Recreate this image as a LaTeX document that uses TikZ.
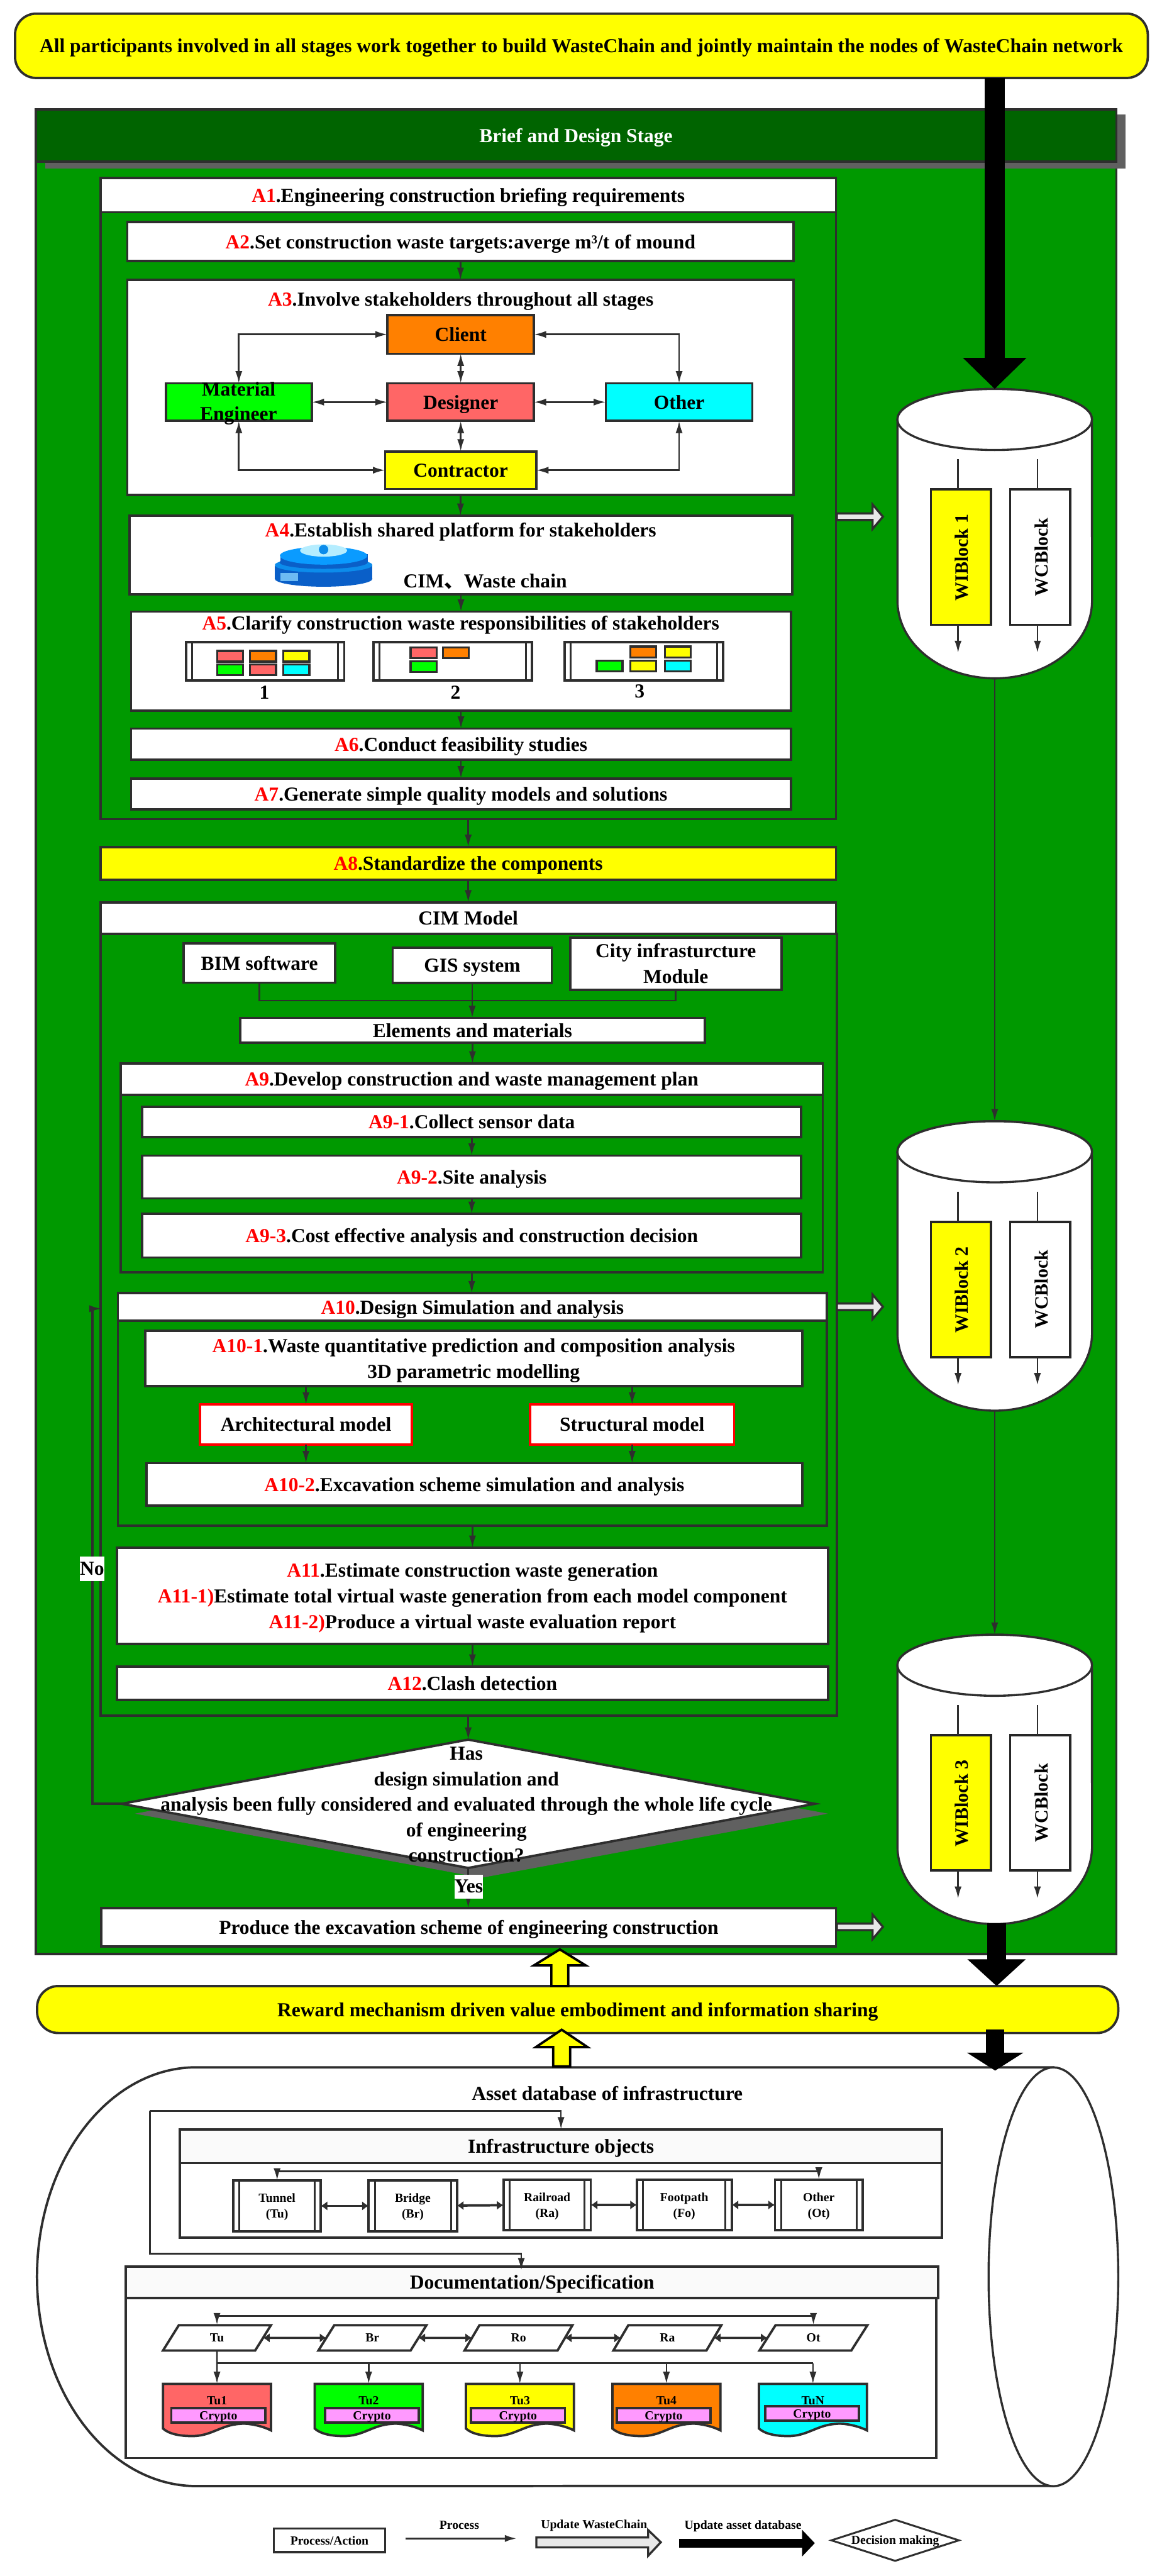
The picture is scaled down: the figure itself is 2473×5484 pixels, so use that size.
\documentclass[tikz,border=0pt]{standalone}
\usepackage{fontspec}
\setmainfont{Liberation Serif}
\newfontfamily\cjk{Noto Sans CJK SC}
\usetikzlibrary{arrows.meta,shapes.geometric}
\definecolor{linecol}{HTML}{2E2E2E}
\definecolor{stagegreen}{HTML}{009900}
\definecolor{headgreen}{HTML}{006400}
\definecolor{shadowgrey}{HTML}{606060}
\definecolor{wred}{HTML}{FF6666}
\definecolor{worange}{HTML}{FF8000}
\definecolor{wgreen}{HTML}{00FF00}
\definecolor{wcyan}{HTML}{00FFFF}
\definecolor{wyellow}{HTML}{FFFF00}
\definecolor{wpink}{HTML}{FF99FF}
\definecolor{iconlow}{HTML}{0A5FC8}
\definecolor{iconring}{HTML}{0C8CEB}
\definecolor{icontop}{HTML}{0A9BFF}
\definecolor{iconcloud}{HTML}{B5EDFF}
\tikzset{
	procbox/.style={draw=linecol, line width=0.05cm, fill=white, inner sep=0pt, outer sep=0pt, align=center, text depth=0pt, font=\fontsize{12}{15.6}\selectfont\bfseries},
	framebox/.style={procbox, fill=none},
	plaintext/.style={inner sep=0pt, outer sep=0pt, align=center, font=\fontsize{12}{15.6}\selectfont\bfseries},
	smalltext/.style={plaintext, font=\fontsize{7.5}{9.6}\selectfont\bfseries},
	itembox/.style={procbox, font=\fontsize{7.5}{9.6}\selectfont\bfseries, path picture={
		\draw[linecol, line width=0.04cm] (path picture bounding box.north west) ++(13,0) -- ++(0,200);
		\draw[linecol, line width=0.04cm] (path picture bounding box.north east) ++(-13,0) -- ++(0,200);}},
	chip/.style={draw=linecol, line width=0.045cm, minimum width=0.55cm, minimum height=0.23cm, inner sep=0pt},
	flowline/.style={draw=linecol, line width=0.035cm},
	flow/.style={flowline, -{Latex[length=0.26cm,width=0.15cm]}},
	dflow/.style={flowline, {Latex[length=0.26cm,width=0.15cm]}-{Latex[length=0.26cm,width=0.15cm]}},
	fatflow/.style={draw=linecol, line width=0.05cm, {Latex[length=0.14cm,width=0.2cm]}-{Latex[length=0.14cm,width=0.2cm]}},
	blockflow/.style={draw=black, line width=0.44cm, -{Triangle[length=0.66cm,width=1.31cm]}},
	hollow/.style={draw=linecol, line width=0.045cm, fill=#1},
	pill/.style={procbox, fill=wyellow, rounded corners=0.45cm},
	para/.style={trapezium, trapezium left angle=70.6, trapezium right angle=109.4, trapezium stretches=true, draw=linecol, line width=0.05cm, fill=white, inner sep=0pt, outer sep=0pt, minimum width=2.3cm, minimum height=0.54cm, font=\fontsize{7.5}{9.6}\selectfont\bfseries},
	dec/.style={diamond, inner sep=0pt, outer sep=0pt, minimum width=14.75cm, minimum height=2.73cm},
}
\def\procbox[#1](#2)(#3,#4)(#5,#6)#7{\node[#1, minimum width={(#5-#3)*0.01cm}, minimum height={(#6-#4)*0.01cm}] (#2) at ({(#3+#5)/2},{(#4+#6)/2}) {#7};}
\def\tagr#1{\textcolor{red}{#1}}
% one cylinder with its two blocks, #2 is the y of the top ellipse
\def\blockdb#1#2{
	\begin{scope}[shift={(0,#2)}]
		\draw[hollow=white] (1911,0) -- (1911,386) arc[start angle=180,end angle=360,x radius=2.07cm,y radius=1.65cm] -- (2325,0) arc[start angle=0,end angle=180,x radius=2.07cm,y radius=0.65cm] -- cycle;
		\draw[hollow=white] (2118,0) ellipse[x radius=2.07cm,y radius=0.65cm];
		\coordinate (cyl#1top) at (2118,-65);
		\coordinate (cyl#1bot) at (2118,551);
		\procbox[procbox, fill=wyellow, draw=black!85](wi#1)(1982,149)(2110,437){}
		\procbox[procbox, draw=black!85](wc#1)(2151,149)(2279,437){}
		\node[plaintext, font=\fontsize{11.4}{14}\selectfont\bfseries, rotate=90] (wi#1text) at (2047,294) {WIBlock #1};
		\node[plaintext, font=\fontsize{11.4}{14}\selectfont\bfseries, rotate=90] (wc#1text) at (2217,293) {WCBlock};
		\coordinate (wi#1in) at (2040,85);
		\coordinate (wc#1in) at (2209,85);
		\coordinate (wi#1out) at (2040,497);
		\coordinate (wc#1out) at (2209,497);
		\draw[flowline] (wi#1in) -- (wi#1in |- wi#1.north);
		\draw[flowline] (wc#1in) -- (wc#1in |- wc#1.north);
		\draw[flow] (wi#1in |- wi#1.south) -- (wi#1out);
		\draw[flow] (wc#1in |- wc#1.south) -- (wc#1out);
	\end{scope}
}
% grey arrow that updates the chain
\def\updarrow(#1,#2){\draw[hollow=black!9] (#1,#2) ++(0,-7) -- ++(76,0) -- ++(0,-19) -- ++(22,26) -- ++(-22,26) -- ++(0,-19) -- ++(-76,0) -- cycle;}
% yellow arrow going up: x, tip, head base, foot
\def\upblock(#1,#2,#3,#4){\draw[draw=black, line width=0.05cm, fill=wyellow, line join=miter] (#1,#2) -- ({#1+55},#3) -- ({#1+18},#3) -- ({#1+18},#4) -- ({#1-18},#4) -- ({#1-18},#3) -- ({#1-55},#3) -- cycle;}
% document with the wavy foot
\def\wavedoc#1#2#3#4#5#6{
	\begin{scope}[shift={(#2,5075)}]
		\draw[draw=linecol, line width=0.05cm, fill=#3] (0,0) -- (230,0) -- (230,99) .. controls (213,90) and (183,83) .. (165,85) .. controls (123,87) and (103,112) .. (60,111) .. controls (38,111) and (13,107) .. (0,95) -- cycle;
		\coordinate (doc#1) at (115,0);
		\node[smalltext] (doc#1text) at (115,35) {#4};
		\node[procbox, fill=wpink, font=\fontsize{7.5}{9.6}\selectfont\bfseries, minimum width=2cm, minimum height=0.31cm] (crypt#1) at (#5,#6) {Crypto};
	\end{scope}
}
\begin{document}
\begin{tikzpicture}[x=0.01cm,y=-0.01cm]
	%%%%% START %%%%%
	\useasboundingbox (0,0) rectangle (2473,5484);

	\procbox[pill](topbar)(32,29)(2444,166){All participants involved in all stages work together to build WasteChain and jointly maintain the nodes of WasteChain network}

	% stage background
	\draw[fill=stagegreen, draw=linecol, line width=0.05cm] (76,233) rectangle (2377,4160);
	\fill[shadowgrey] (96,244) rectangle (2397,359);
	\procbox[procbox, fill=headgreen, text=white](stagehead)(76,233)(2377,344){Brief and Design Stage}

	% A1 group
	\procbox[framebox](a1frame)(214,452)(1780,1744){}
	\procbox[procbox](a1)(214,379)(1780,452){\tagr{A1}.Engineering construction briefing requirements}
	\procbox[procbox](a2)(271,473)(1690,556){\tagr{A2}.Set construction waste targets:averge m³/t of mound}
	\procbox[procbox](a3)(271,596)(1690,1054){}
	\node[plaintext] (a3text) at (981,642) {\tagr{A3}.Involve stakeholders throughout all stages};
	\procbox[procbox, fill=worange](client)(825,671)(1137,753){Client}
	\procbox[procbox, fill=wred](designer)(825,816)(1137,896){Designer}
	\procbox[procbox, fill=wgreen](mat)(353,816)(664,896){}
	\node[plaintext, font=\fontsize{12}{14.8}\selectfont\bfseries] (mattext) at (508,859) {Material\\Engineer};
	\procbox[procbox, fill=wcyan](othersh)(1290,816)(1602,896){Other}
	\procbox[procbox, fill=wyellow](contr)(820,961)(1142,1041){Contractor}
	\draw[dflow] (client.west) -| (mat.north);
	\draw[dflow] (client.east) -| (othersh.north);
	\draw[dflow] (contr.west) -| (mat.south);
	\draw[dflow] (contr.east) -| (othersh.south);
	\draw[dflow] (client) -- (designer);
	\draw[dflow] (designer) -- (contr);
	\draw[dflow] (mat) -- (designer);
	\draw[dflow] (designer) -- (othersh);

	\procbox[procbox](a4)(276,1098)(1687,1265){}
	\node[plaintext] (a4text) at (981,1132) {\tagr{A4}.Establish shared platform for stakeholders};
	\node[plaintext] (a4plat) at (1033,1238) {CIM{\cjk 、}Waste chain};
	% platform icon
	\fill[iconlow] (585,1205) rectangle (793,1232);
	\fill[iconlow] (689,1232) ellipse[x radius=1.04cm,y radius=0.17cm];
	\fill[iconring] (689,1203) ellipse[x radius=1.04cm,y radius=0.16cm];
	\fill[iconlow] (689,1197) ellipse[x radius=0.94cm,y radius=0.14cm];
	\fill[iconlow] (597,1180) rectangle (783,1197);
	\fill[icontop] (689,1183) ellipse[x radius=0.93cm,y radius=0.19cm];
	\fill[iconcloud] (689,1172) ellipse[x radius=0.5cm,y radius=0.13cm];
	\fill[iconring] (689,1170) circle[radius=0.1cm];
	\fill[iconring!60] (597,1220) rectangle (635,1237);

	\procbox[procbox](a5)(279,1302)(1684,1513){}
	\node[plaintext] (a5text) at (981,1331) {\tagr{A5}.Clarify construction waste responsibilities of stakeholders};
	\procbox[itembox](opt1)(396,1367)(733,1449){}
	\procbox[itembox](opt2)(795,1367)(1133,1449){}
	\procbox[itembox](opt3)(1202,1367)(1540,1449){}
	\node[plaintext] (opt1text) at (563,1474) {1};
	\node[plaintext] (opt2text) at (970,1474) {2};
	\node[plaintext] (opt3text) at (1362,1472) {3};
	\node[chip, fill=wred] (c1a) at (490,1397) {};
	\node[chip, fill=worange] (c1b) at (560,1397) {};
	\node[chip, fill=wyellow] (c1c) at (631,1397) {};
	\node[chip, fill=wgreen] (c1d) at (490,1426) {};
	\node[chip, fill=wred] (c1e) at (560,1426) {};
	\node[chip, fill=wcyan] (c1f) at (631,1426) {};
	\node[chip, fill=wred] (c2a) at (902,1390) {};
	\node[chip, fill=worange] (c2b) at (971,1390) {};
	\node[chip, fill=wgreen] (c2c) at (902,1419) {};
	\node[chip, fill=worange] (c3a) at (1370,1388) {};
	\node[chip, fill=wyellow] (c3b) at (1443,1388) {};
	\node[chip, fill=wgreen] (c3c) at (1298,1418) {};
	\node[chip, fill=wyellow] (c3d) at (1370,1418) {};
	\node[chip, fill=wcyan] (c3e) at (1443,1418) {};

	\procbox[procbox](a6)(279,1551)(1684,1617){\tagr{A6}.Conduct feasibility studies}
	\procbox[procbox](a7)(279,1657)(1684,1723){\tagr{A7}.Generate simple quality models and solutions}
	\draw[flow] (a2) -- (a2 |- a3.north);
	\draw[flow] (a3) -- (a3 |- a4.north);
	\draw[flow] (a4) -- (a4 |- a5.north);
	\draw[flow] (a5) -- (a5 |- a6.north);
	\draw[flow] (a6) -- (a6 |- a7.north);

	\procbox[procbox, fill=wyellow](a8)(214,1803)(1780,1873){\tagr{A8}.Standardize the components}
	\draw[flow] (a1frame) -- (a1frame |- a8.north);

	% CIM group
	\procbox[framebox](cimframe)(214,1988)(1782,3652){}
	\procbox[procbox](cimhead)(214,1921)(1780,1988){CIM Model}
	\draw[flow] (a8) -- (a8 |- cimhead.north);
	\procbox[procbox](bim)(391,2008)(714,2092){BIM software}
	\procbox[procbox](gis)(836,2018)(1175,2093){GIS system}
	\procbox[procbox](city)(1214,1996)(1664,2107){City infrasturcture\\Module}
	\procbox[procbox](elem)(511,2167)(1501,2220){Elements and materials}
	\coordinate (cimbus) at (1005,2130);
	\draw[flowline] (bim.south) |- (cimbus) -| (city.south);
	\draw[flow] (gis) -- (gis |- elem.north);

	\procbox[framebox](a9frame)(257,2331)(1752,2708){}
	\procbox[procbox](a9)(257,2264)(1752,2331){\tagr{A9}.Develop construction and waste management plan}
	\procbox[procbox](a9a)(303,2356)(1706,2421){\tagr{A9-1}.Collect sensor data}
	\procbox[procbox](a9b)(303,2460)(1706,2551){\tagr{A9-2}.Site analysis}
	\procbox[procbox](a9c)(303,2584)(1706,2677){\tagr{A9-3}.Cost effective analysis and construction decision}
	\draw[flow] (elem) -- (elem |- a9.north);
	\draw[flow] (a9a) -- (a9a |- a9b.north);
	\draw[flow] (a9b) -- (a9b |- a9c.north);

	\procbox[framebox](a10frame)(251,2812)(1761,3248){}
	\procbox[procbox](a10)(251,2753)(1761,2812){\tagr{A10}.Design Simulation and analysis}
	\draw[flow] (a9frame) -- (a9frame |- a10.north);
	\procbox[procbox](a10a)(309,2833)(1708,2951){\tagr{A10-1}.Waste quantitative prediction and composition analysis\\3D parametric modelling}
	\procbox[procbox, draw=red](arch)(426,2990)(877,3075){Architectural model}
	\procbox[procbox, draw=red](struct)(1129,2990)(1563,3075){Structural model}
	\procbox[procbox](a10b)(312,3115)(1708,3205){\tagr{A10-2}.Excavation scheme simulation and analysis}
	\draw[flow] (arch |- a10a.south) -- (arch);
	\draw[flow] (struct |- a10a.south) -- (struct);
	\draw[flow] (arch) -- (arch |- a10b.north);
	\draw[flow] (struct) -- (struct |- a10b.north);

	\procbox[procbox](a11)(249,3295)(1763,3500){\tagr{A11}.Estimate construction waste generation\\\tagr{A11-1)}Estimate total virtual waste generation from each model component\\\tagr{A11-2)}Produce a virtual waste evaluation report}
	\procbox[procbox](a12)(249,3548)(1763,3619){\tagr{A12}.Clash detection}
	\draw[flow] (a10frame) -- (a10frame |- a11.north);
	\draw[flow] (a11) -- (a11 |- a12.north);

	% decision
	\node[dec, fill=shadowgrey] (decshadow) at (1025,3861) {};
	\node[dec, draw=linecol, line width=0.05cm, fill=white] (decide) at (997,3840) {};
	\node[plaintext, font=\fontsize{12}{15.4}\selectfont\bfseries] (decidetext) at (993,3842) {Has\\design simulation and\\analysis been fully considered and evaluated through the whole life cycle\\of engineering\\construction?};
	\draw[flow] (cimframe.south -| decide.north) -- (decide.north);
	\procbox[procbox](result)(216,4062)(1780,4144){Produce the excavation scheme of engineering construction}
	\draw[flow] (decide.south) -- (decide.south |- result.north);
	\node[plaintext, fill=white, minimum width=0.6cm, minimum height=0.51cm] (yeslabel) at (998,4016) {Yes};
	\coordinate (nocorner) at (197,2786);
	\coordinate (noend) at (216,2786);
	\draw[flowline, line width=0.045cm] (decide.west) -| (nocorner);
	\draw[flow] (nocorner) -- (noend);
	\node[plaintext, fill=white, minimum width=0.52cm, minimum height=0.53cm] (nolabel) at (196,3340) {No};

	% the three cylinders
	\blockdb{1}{893}
	\blockdb{2}{2452}
	\blockdb{3}{3545}
	\draw[flow] (cyl1bot) -- (cyl2top);
	\draw[flow] (cyl2bot) -- (cyl3top);
	\updarrow(1782,1100)
	\updarrow(1782,2782)
	\updarrow(1782,4102)
	\draw[blockflow] (topbar.south -| cyl1top) -- (cyl1top);

	\procbox[pill](reward)(79,4228)(2381,4328){Reward mechanism driven value embodiment and information sharing}
	\coordinate (rewardin) at (2122,4094);
	\draw[blockflow, line width=0.4cm, -{Triangle[length=0.57cm,width=1.21cm]}] (rewardin) -- (rewardin |- reward.north);
	\upblock(1192,4150,4184,4228)

	% asset database
	\draw[draw=linecol, line width=0.05cm, fill=white] (418,4401) arc[start angle=90,end angle=270,x radius=3.39cm,y radius=4.455cm] -- (2243,5292) -- (2243,4401) -- cycle;
	\draw[draw=linecol, line width=0.045cm, fill=white] (2243,4847) ellipse[x radius=1.38cm,y radius=4.455cm];
	\node[plaintext] (assettitle) at (1293,4456) {Asset database of infrastructure};
	\upblock(1196,4321,4358,4399)
	\coordinate (rewardout) at (2119,4321);
	\coordinate (assetin) at (2119,4408);
	\draw[blockflow, line width=0.39cm, -{Triangle[length=0.38cm,width=1.18cm]}] (rewardout) -- (assetin);

	% infrastructure objects
	\procbox[framebox, fill=white](infframe)(383,4605)(2006,4764){}
	\procbox[procbox, fill=black!2](infhead)(383,4533)(2006,4605){Infrastructure objects}
	\procbox[itembox](tunnel)(497,4642)(683,4750){Tunnel\\(Tu)}
	\procbox[itembox](bridge)(785,4642)(973,4750){Bridge\\(Br)}
	\procbox[itembox](railroad)(1072,4640)(1258,4748){Railroad\\(Ra)}
	\procbox[itembox](footpath)(1356,4640)(1558,4748){Footpath\\(Fo)}
	\procbox[itembox](otherobj)(1650,4640)(1837,4748){Other\\(Ot)}
	\draw[fatflow] (tunnel) -- (bridge);
	\draw[fatflow] (bridge) -- (railroad);
	\draw[fatflow] (railroad) -- (footpath);
	\draw[fatflow] (footpath) -- (otherobj);
	\coordinate (itembus) at (1000,4622);
	\draw[dflow, line width=0.04cm] (tunnel.north) -- (tunnel.north |- itembus) -- (otherobj.north |- itembus) -- (otherobj.north);

	% documentation
	\procbox[framebox, fill=white](docframe)(268,4892)(1994,5233){}
	\procbox[procbox, fill=black!2](dochead)(268,4825)(1998,4892){Documentation/Specification}
	\coordinate (looptop) at (319,4494);
	\coordinate (loopbot) at (319,4798);
	\coordinate (docenter) at (1110,4833);
	\draw[flow] (looptop) -- (looptop -| infhead.north) -- (infhead.north);
	\draw[flow] (looptop) -- (loopbot) -- (loopbot -| docenter) -- (docenter);
	\node[para] (tu) at (462,4977) {Tu};
	\node[para] (br) at (793,4977) {Br};
	\node[para] (ro) at (1104,4977) {Ro};
	\node[para] (ra) at (1421,4977) {Ra};
	\node[para] (ot) at (1732,4977) {Ot};
	\draw[fatflow] (tu) -- (br);
	\draw[fatflow] (br) -- (ro);
	\draw[fatflow] (ro) -- (ra);
	\draw[fatflow] (ra) -- (ot);
	\coordinate (parabus) at (1000,4930);
	\draw[dflow, line width=0.04cm] (tu.north) -- (tu.north |- parabus) -- (ot.north |- parabus) -- (ot.north);
	\wavedoc{1}{347}{wred}{Tu1}{118}{67}
	\wavedoc{2}{670}{wgreen}{Tu2}{122}{67}
	\wavedoc{3}{992}{wyellow}{Tu3}{111}{67}
	\wavedoc{4}{1304}{worange}{Tu4}{109}{67}
	\wavedoc{5}{1616}{wcyan}{TuN}{113}{63}
	\coordinate (docbus) at (462,5031);
	\draw[flow] (tu.south) -- (doc1);
	\draw[flowline, line width=0.045cm] (docbus) -- (doc5 |- docbus);
	\draw[flow] (doc2 |- docbus) -- (doc2);
	\draw[flow] (doc3 |- docbus) -- (doc3);
	\draw[flow] (doc4 |- docbus) -- (doc4);
	\draw[flow] (doc5 |- docbus) -- (doc5);

	% legend
	\procbox[procbox, font=\fontsize{7.5}{9.6}\selectfont\bfseries](legproc)(583,5383)(820,5433){Process/Action}
	\coordinate (legfrom) at (863,5404);
	\coordinate (legto) at (1101,5404);
	\draw[flow, line width=0.045cm] (legfrom) -- (legto);
	\node[smalltext] (legflow) at (978,5376) {Process};
	\draw[hollow=black!9] (1142,5402) -- (1380,5402) -- (1380,5386) -- (1407,5412) -- (1380,5441) -- (1380,5423) -- (1142,5423) -- cycle;
	\node[smalltext] (legchain) at (1265,5376) {Update WasteChain};
	\coordinate (legdbfrom) at (1446,5414);
	\coordinate (legdbto) at (1735,5414);
	\draw[blockflow, line width=0.19cm, -{Triangle[length=0.27cm,width=0.55cm]}] (legdbfrom) -- (legdbto);
	\node[smalltext] (legdb) at (1582,5378) {Update asset database};
	\node[diamond, draw=linecol, line width=0.04cm, fill=white, inner sep=0pt, minimum width=2.73cm, minimum height=0.89cm] (legdec) at (1906,5408) {};
	\node[smalltext] (legdectext) at (1906,5410) {Decision making};

	%%%%% END %%%%%
\end{tikzpicture}
\end{document}
